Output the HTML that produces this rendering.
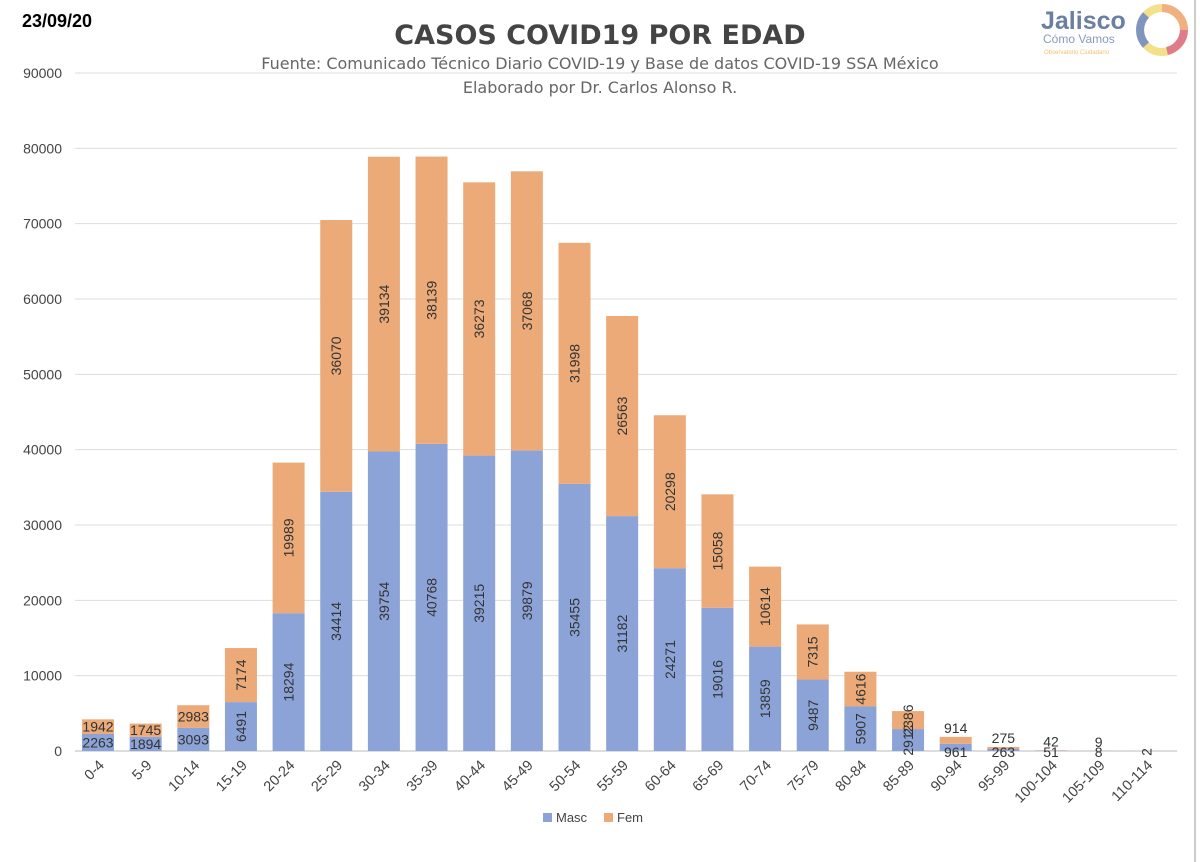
<!DOCTYPE html>
<html><head><meta charset="utf-8"><style>
body{margin:0;background:#fff;font-family:"Liberation Sans",sans-serif;}
svg{display:block}
</style></head><body>
<svg id="c" width="1200" height="862">
<rect x="0" y="0" width="1200" height="862" fill="#fff"/>
<line x1="1195" y1="0" x2="1195" y2="862" stroke="#ccc" stroke-width="2"/>
<text x="22" y="27" font-size="18" font-weight="bold">23/09/20</text>
<text x="600" y="44" font-size="27" font-weight="bold" fill="#444" text-anchor="middle" font-family="DejaVu Sans, sans-serif">CASOS COVID19 POR EDAD</text>
<text x="600" y="69" font-size="16" fill="#666" text-anchor="middle" font-family="DejaVu Sans, sans-serif">Fuente: Comunicado Técnico Diario COVID-19 y Base de datos COVID-19 SSA México</text>
<text x="600" y="93" font-size="16" fill="#666" text-anchor="middle" font-family="DejaVu Sans, sans-serif">Elaborado por Dr. Carlos Alonso R.</text>
<g>
<text x="1041" y="29" font-size="25" font-weight="bold" fill="#6b7fa3">Jalisco</text>
<text x="1043" y="43" font-size="12" fill="#8a9bbd">Cómo Vamos</text>
<text x="1044" y="54" font-size="6" fill="#f0c070">Observatorio Ciudadano</text>
<circle cx="1162" cy="30" r="22" fill="none" stroke="#f3e08a" stroke-width="8"/>
<path d="M1162 8 A22 22 0 0 1 1184 30" fill="none" stroke="#f0b080" stroke-width="8"/>
<path d="M1184 30 A22 22 0 0 1 1167 51" fill="none" stroke="#e07b8c" stroke-width="8"/>
<path d="M1146 45 A22 22 0 0 1 1146 15" fill="none" stroke="#7f95bf" stroke-width="8"/>
</g>
<g id="grid"></g><g id="bars"></g><g id="labels"></g>
<g>
<rect x="543" y="813" width="9" height="9" fill="#8ca3d8"/>
<text x="556" y="822" font-size="13" fill="#444">Masc</text>
<rect x="604" y="813" width="9" height="9" fill="#ebaa78"/>
<text x="617" y="822" font-size="13" fill="#444">Fem</text>
</g>
</svg>
<script>
const categories=["0-4","5-9","10-14","15-19","20-24","25-29","30-34","35-39","40-44","45-49","50-54","55-59","60-64","65-69","70-74","75-79","80-84","85-89","90-94","95-99","100-104","105-109","110-114"];
const masc=[2263,1894,3093,6491,18294,34414,39754,40768,39215,39879,35455,31182,24271,19016,13859,9487,5907,2912,961,263,51,8,2];
const fem=[1942,1745,2983,7174,19989,36070,39134,38139,36273,37068,31998,26563,20298,15058,10614,7315,4616,2386,914,275,42,9,0];
const yTicks=[0,10000,20000,30000,40000,50000,60000,70000,80000,90000];
const NS="http://www.w3.org/2000/svg";
const y0=751,pxPer=(751-73)/90000;
function Y(v){return y0-v*pxPer;}
function X(i){return 98+i*47.65;}
const bw=32;
function mk(tag,attrs,parent){const e=document.createElementNS(NS,tag);for(const k in attrs)e.setAttribute(k,attrs[k]);parent.appendChild(e);return e;}
const grid=document.getElementById('grid'),bars=document.getElementById('bars'),labels=document.getElementById('labels');
yTicks.forEach(t=>{
 const l=mk('line',{x1:75,x2:1177,y1:Y(t),y2:Y(t),stroke:t===0?'#bbb':'#ddd','stroke-width':1},grid);
 
 
 const tx=mk('text',{x:62,y:Y(t)+5,'font-size':14,fill:'#444','text-anchor':'end'},grid);
 tx.textContent=t;
 
 
});
function lab(val,cx,cy,rot,name){
 const t=mk('text',{x:cx,y:cy,'font-size':14,fill:'#333','text-anchor':'middle','dominant-baseline':'central'},labels);
 if(rot)t.setAttribute('transform','rotate(-90 '+cx+' '+cy+')');
 t.textContent=val;
 
 
}
categories.forEach((c,i)=>{
 const cx=X(i);
 const mt=Y(masc[i]),ft=Y(masc[i]+fem[i]);
 const b1=mk('rect',{x:cx-bw/2,y:mt,width:bw,height:y0-mt,fill:'#8ca3d8'},bars);
 
 
 const b2=mk('rect',{x:cx-bw/2,y:ft,width:bw,height:mt-ft,fill:'#ebaa78'},bars);
 
 
 const mh=y0-mt,fh=mt-ft;
 const big=i>=3;
 if(masc[i]>0){
  if(mh>17&&big) lab(masc[i],cx,(mt+y0)/2,true,'value-masc-'+c);
  else if(mh>10) lab(masc[i],cx,(mt+y0)/2,false,'value-masc-'+c);
  else lab(masc[i],cx,y0+1,c==="110-114",'value-masc-'+c);
 }
 if(fem[i]>0){
  if(fh>17&&big) lab(fem[i],cx,(ft+mt)/2,true,'value-fem-'+c);
  else if(fh>10) lab(fem[i],cx,(ft+mt)/2,false,'value-fem-'+c);
  else lab(fem[i],cx,Math.min(ft,mt)-9,false,'value-fem-'+c);
 }
 const tx=mk('text',{x:cx+7,y:766,'font-size':14.5,fill:'#444','text-anchor':'end',transform:'rotate(-45 '+(cx+7)+' 766)'},labels);
 tx.textContent=c;
 
 
});
</script>
</body></html>
